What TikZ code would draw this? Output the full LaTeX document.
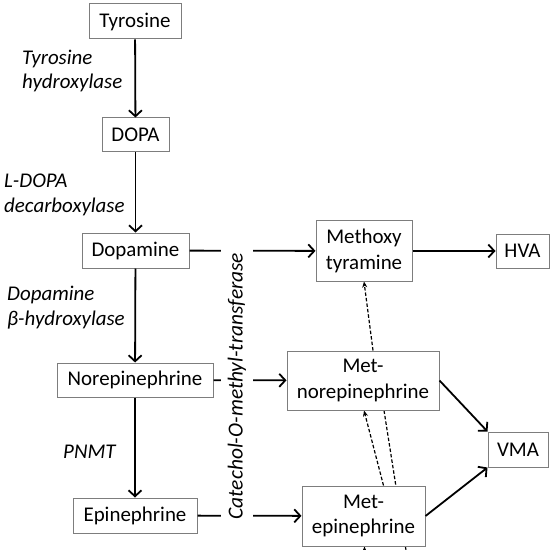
\documentclass[tikz,border=0pt]{standalone}
\usepackage{fontspec}
\setmainfont{Carlito}
\usetikzlibrary{arrows.meta,backgrounds}
\definecolor{boxgray}{RGB}{125,125,125}
\begin{document}
\begin{tikzpicture}[x=1bp,y=-1bp,
 box/.style={draw=boxgray, line width=1bp, fill=white, inner sep=0pt, align=center, font=\fontsize{21}{26}\selectfont},
 enz/.style={inner sep=0pt, align=left, anchor=west, font=\fontsize{21}{25}\selectfont\itshape},
 flow/.style={line width=1.8bp, -{Straight Barb[length=6bp,width=13bp]}},
 cmt/.style={line width=1.2bp, dash pattern=on 3.5bp off 2bp, -{Stealth[length=6bp,width=5bp]}},
 plaincmt/.style={line width=1.2bp, dash pattern=on 3.5bp off 2bp},
]
\useasboundingbox (0,0) rectangle (550,550);
\clip (0,0) rectangle (550,550);

% boxes
\node[box, minimum width=92bp, minimum height=35bp] (tyr) at (135,21.5) {Tyrosine};
\node[box, minimum width=67bp, minimum height=34bp] (dopa) at (135.5,135) {DOPA};
\node[box, minimum width=107bp, minimum height=35bp] (dopamine) at (135.5,250.5) {Dopamine};
\node[box, minimum width=156bp, minimum height=34bp] (norepi) at (135,380) {Norepinephrine};
\node[box, minimum width=124bp, minimum height=35bp] (epi) at (135,515.5) {Epinephrine};
\node[box, minimum width=96bp, minimum height=60bp] (methoxy) at (364,251) {Methoxy\\tyramine};
\node[box, minimum width=152bp, minimum height=59bp] (metnor) at (363,380.5) {Met-\\norepinephrine};
\node[box, minimum width=123bp, minimum height=60bp] (metepi) at (363.5,516) {Met-\\epinephrine};
\node[box, minimum width=53bp, minimum height=34bp] (hva) at (522.5,251) {HVA};
\node[box, minimum width=60bp, minimum height=35bp] (vma) at (518,449.5) {VMA};

% off-picture ends of the dashed connectors
\coordinate (offA) at (364.5,585);
\coordinate (offB) at (411.5,585);

% white ground and dashed connectors (behind boxes)
\begin{scope}[on background layer]
\fill[white] (0,0) rectangle (550,550);
\draw[plaincmt] ([xshift=21bp]metnor.south) -- (offB);
\draw[cmt] (offA) -- ([xshift=1bp]metepi.south);
\draw[cmt] ([xshift=20bp]metepi.north) -- ([xshift=1bp]metnor.south);
\draw[cmt] ([xshift=10bp]metnor.north) -- (methoxy.south);
\end{scope}

% main pathway
\draw[flow] (tyr) -- (dopa);
\draw[flow] (dopa) -- (dopamine);
\draw[flow] (dopamine) -- (norepi);
\draw[flow] (norepi) -- (epi);
\draw[flow] (dopamine) -- (methoxy);
\draw[flow] (methoxy) -- (hva);
\draw[flow] (norepi) -- (metnor);
\draw[flow] (epi) -- (metepi);
\draw[flow] (metnor.east) -- (vma.north west);
\draw[flow] (metepi.east) -- (vma.south west);

% enzyme labels
\node[enz] (th) at (22,71) {Tyrosine\\hydroxylase};
\node[enz] (ddc) at (4,195) {L-DOPA\\decarboxylase};
\node[enz] (dbh) at (7,308) {Dopamine\\β-hydroxylase};
\node[enz] (pnmt) at (63,452) {PNMT};
\node[fill=white, rotate=90, inner xsep=10bp, inner ysep=7bp, font=\fontsize{21.5}{25}\selectfont\itshape] (comt) at (237,386) {Catechol-O-methyl-transferase};
\end{tikzpicture}
\end{document}
